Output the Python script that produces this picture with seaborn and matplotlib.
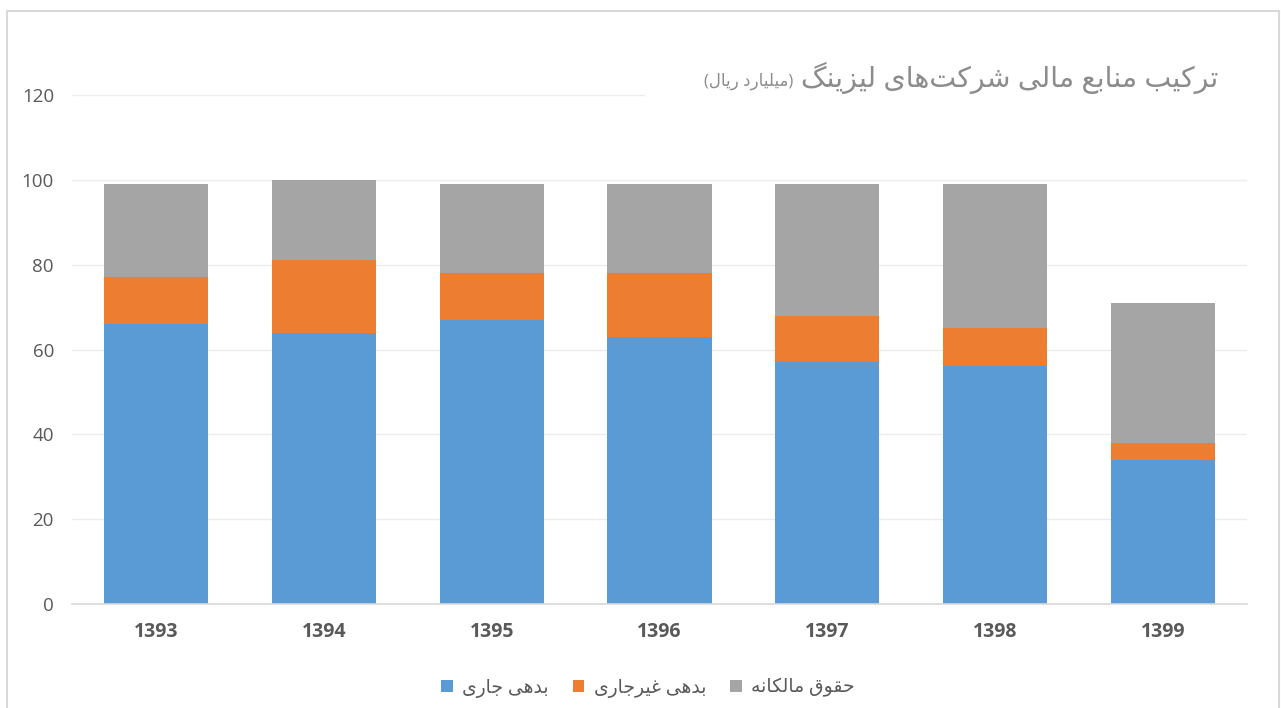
import matplotlib
matplotlib.use("Agg")
import matplotlib.pyplot as plt
import numpy as np
import pandas as pd
import seaborn as sns
from matplotlib.patches import Patch, Rectangle


YEARS = ["1393", "1394", "1395", "1396", "1397", "1398", "1399"]
CURRENT_DEBT = [66, 64, 67, 63, 57, 56, 34]
NONCURRENT_DEBT = [11, 17, 11, 15, 11, 9, 4]
EQUITY = [22, 19, 21, 21, 31, 34, 33]

SERIES_NAMES = ["بدهی جاری", "بدهی غیرجاری", "حقوق مالکانه"]
SERIES_COLORS = ["#5B9BD5", "#ED7D31", "#A5A5A5"]
TITLE = "ترکیب منابع مالی شرکت\u200cهای لیزینگ"
SUBTITLE = "(میلیارد ریال)"
Y_TICKS = [0, 20, 40, 60, 80, 100, 120]


# (isolated, final, initial, medial) presentation forms
FORMS = {
    "ا": ("\uFE8D", "\uFE8E", None, None),
    "ب": ("\uFE8F", "\uFE90", "\uFE91", "\uFE92"),
    "ت": ("\uFE95", "\uFE96", "\uFE97", "\uFE98"),
    "ج": ("\uFE9D", "\uFE9E", "\uFE9F", "\uFEA0"),
    "ح": ("\uFEA1", "\uFEA2", "\uFEA3", "\uFEA4"),
    "د": ("\uFEA9", "\uFEAA", None, None),
    "ر": ("\uFEAD", "\uFEAE", None, None),
    "ز": ("\uFEAF", "\uFEB0", None, None),
    "ش": ("\uFEB5", "\uFEB6", "\uFEB7", "\uFEB8"),
    "ع": ("\uFEC9", "\uFECA", "\uFECB", "\uFECC"),
    "غ": ("\uFECD", "\uFECE", "\uFECF", "\uFED0"),
    "ق": ("\uFED5", "\uFED6", "\uFED7", "\uFED8"),
    "ل": ("\uFEDD", "\uFEDE", "\uFEDF", "\uFEE0"),
    "م": ("\uFEE1", "\uFEE2", "\uFEE3", "\uFEE4"),
    "ن": ("\uFEE5", "\uFEE6", "\uFEE7", "\uFEE8"),
    "ه": ("\uFEE9", "\uFEEA", "\uFEEB", "\uFEEC"),
    "و": ("\uFEED", "\uFEEE", None, None),
    "ک": ("\uFB8E", "\uFB8F", "\uFB90", "\uFB91"),
    "گ": ("\uFB92", "\uFB93", "\uFB94", "\uFB95"),
    "ی": ("\uFBFC", "\uFBFD", "\uFBFE", "\uFBFF"),
}
MIRROR = {"(": ")", ")": "("}


def shape_rtl(text: str) -> str:
    """Join Persian letters and return them in visual (left-to-right) order."""
    out = []
    for i, ch in enumerate(text):
        if ch not in FORMS:
            if ch != "\u200c":
                out.append(MIRROR.get(ch, ch))
            continue
        prev = text[i - 1] if i > 0 else ""
        nxt = text[i + 1] if i + 1 < len(text) else ""
        join_prev = prev in FORMS and FORMS[prev][2] is not None
        join_next = FORMS[ch][2] is not None and nxt in FORMS
        iso, fin, ini, med = FORMS[ch]
        if join_prev and join_next:
            out.append(med)
        elif join_prev:
            out.append(fin)
        elif join_next:
            out.append(ini)
        else:
            out.append(iso)
    return "".join(reversed(out))


sns.set_theme(style="white")
plt.rcParams["font.family"] = ["Open Sans", "DejaVu Sans"]

fig = plt.figure(figsize=(12.81, 7.08), dpi=100)
ax = fig.add_axes([72 / 1281, 1 - 604 / 708, (1247 - 72) / 1281, (604 - 95) / 708])

df = pd.DataFrame({
    "year": YEARS,
    "current": CURRENT_DEBT,
    "noncurrent": NONCURRENT_DEBT,
    "equity": EQUITY,
})
df["lvl1"] = df["current"]
df["lvl2"] = df["lvl1"] + df["noncurrent"]
df["lvl3"] = df["lvl2"] + df["equity"]

# stacked look: draw the cumulative totals from the tallest down
for col, color in zip(["lvl3", "lvl2", "lvl1"], SERIES_COLORS[::-1]):
    sns.barplot(data=df, x="year", y=col, color=color, width=0.62,
                saturation=1, linewidth=0, ax=ax, zorder=2)

ax.set_xlim(-0.5, len(YEARS) - 0.5)
ax.set_ylim(0, 120)
ax.set_yticks(Y_TICKS)
ax.set_yticklabels([str(t) for t in Y_TICKS], fontsize=13.5, color="#595959")
ax.tick_params(axis="y", length=0, pad=13)
ax.tick_params(axis="x", length=0, pad=13)
for lbl in ax.get_xticklabels():
    lbl.set_fontsize(14)
    lbl.set_fontweight("bold")
    lbl.set_color("#595959")
ax.set_xlabel("")
ax.set_ylabel("")
ax.grid(axis="y", color="#ececec", linewidth=1, zorder=0)
ax.set_axisbelow(True)
for side in ["left", "right", "top"]:
    ax.spines[side].set_visible(False)
ax.spines["bottom"].set_color("#d9d9d9")
ax.spines["bottom"].set_linewidth(1.2)

# white box behind the title hides the top gridline
fig.add_artist(Rectangle((645 / 1281, 1 - 112 / 708), (1250 - 645) / 1281, 60 / 708,
                         transform=fig.transFigure, facecolor="white",
                         edgecolor="none", zorder=3))
title = fig.text(1218 / 1281, 1 - 78 / 708, shape_rtl(TITLE), ha="right", va="center",
                 fontsize=20.5, color="#8c8c8c", zorder=4)
fig.canvas.draw()
left_px = title.get_window_extent().x0
fig.text((left_px - 7) / 1281, 1 - 81 / 708, shape_rtl(SUBTITLE), ha="right",
         va="center", fontsize=12, color="#8c8c8c", zorder=4)

# outer chart frame
fig.add_artist(Rectangle((7 / 1281, -0.05), (1272 / 1281), 1.05 - 11 / 708,
                         transform=fig.transFigure, facecolor="none",
                         edgecolor="#d9d9d9", linewidth=1.5, zorder=1))

handles = [Patch(facecolor=c, edgecolor="none") for c in SERIES_COLORS]
fig.legend(handles, [shape_rtl(n) for n in SERIES_NAMES], loc="center",
           bbox_to_anchor=(648 / 1281, 1 - 688 / 708), ncol=3, frameon=False,
           fontsize=13.5, labelcolor="#595959", handlelength=0.6,
           handleheight=0.6, handletextpad=0.5, columnspacing=1.3)

fig.savefig("out.png", dpi=100)
